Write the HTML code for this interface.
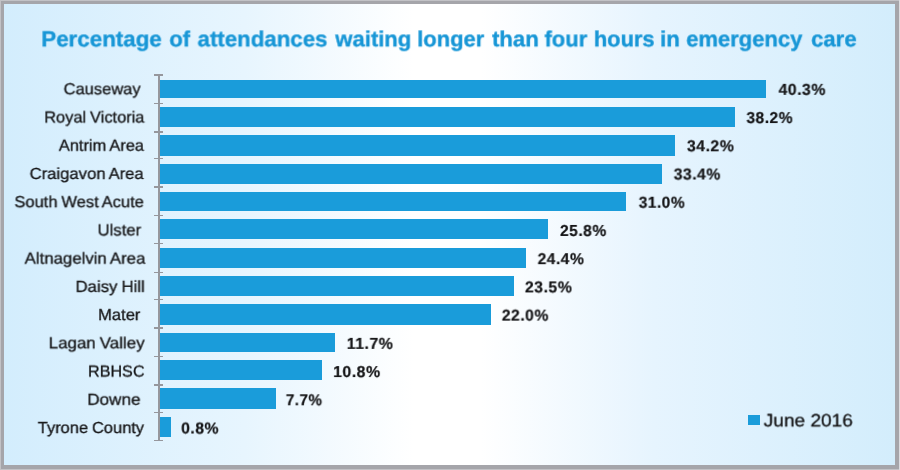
<!DOCTYPE html>
<html><head><meta charset="utf-8"><title>Chart</title>
<style>
html,body{margin:0;padding:0;}
body{width:900px;height:470px;overflow:hidden;background:#c2c2c6;font-family:"Liberation Sans",sans-serif;position:relative;}
#frame{position:absolute;left:1.1px;top:1.25px;width:897.6px;height:468.05px;background:#a5a5aa;}
#rs{position:absolute;left:898.7px;top:0;width:1.3px;height:470px;background:#dcdce0;}
#bg{position:absolute;left:3.85px;top:4.4px;width:891.15px;height:460.8px;
background:linear-gradient(to right,#d3edfd 0%,#e7f5fe 27%,#ffffff 46%,#ffffff 53.5%,#e6f4fe 73%,#d3edfc 100%);}
.t{position:absolute;white-space:nowrap;transform-origin:0 0;color:#141416;will-change:transform;text-rendering:geometricPrecision;-webkit-text-stroke:0.3px #141416;}
.lab{font-size:16.0px;line-height:21px;word-spacing:-0.6px;-webkit-text-stroke:0.3px #141416;color:#141416;}
.val{font-size:15.9px;line-height:21px;font-weight:bold;letter-spacing:0.5px;-webkit-text-stroke:0.2px #141416;}
.ttl{font-size:21.8px;line-height:26px;font-weight:bold;color:#1796d6;-webkit-text-stroke:0.35px #1796d6;}
.lgt{font-size:17.8px;line-height:22px;}
.bar{position:absolute;left:160px;background:#1a9cda;}
.tick{position:absolute;left:153.8px;width:9.4px;height:1.25px;background:#96979d;}
#axis{position:absolute;left:158.4px;top:74.6px;width:1.35px;height:366.5px;background:#96979d;}
#lgsq{position:absolute;left:748.4px;top:414.5px;width:11.2px;height:10.4px;background:#1a9cda;}
</style></head><body>
<div id="frame"></div><div id="rs"></div>
<div id="bg"></div>
<div id="axis"></div>
<div class="tick" style="top:74.38px"></div>
<div class="tick" style="top:102.78px"></div>
<div class="tick" style="top:131.38px"></div>
<div class="tick" style="top:157.98px"></div>
<div class="tick" style="top:186.38px"></div>
<div class="tick" style="top:214.78px"></div>
<div class="tick" style="top:243.18px"></div>
<div class="tick" style="top:271.78px"></div>
<div class="tick" style="top:298.98px"></div>
<div class="tick" style="top:327.38px"></div>
<div class="tick" style="top:355.78px"></div>
<div class="tick" style="top:384.38px"></div>
<div class="tick" style="top:411.98px"></div>
<div class="tick" style="top:439.98px"></div>
<div class="bar" style="top:79.60px;width:606.0px;height:18.80px"></div>
<div class="bar" style="top:106.60px;width:574.8px;height:20.80px"></div>
<div class="bar" style="top:135.00px;width:514.8px;height:20.60px"></div>
<div class="bar" style="top:163.60px;width:502.0px;height:20.60px"></div>
<div class="bar" style="top:192.00px;width:466.4px;height:19.00px"></div>
<div class="bar" style="top:219.40px;width:387.8px;height:19.60px"></div>
<div class="bar" style="top:247.60px;width:366.4px;height:20.40px"></div>
<div class="bar" style="top:276.00px;width:353.5px;height:20.40px"></div>
<div class="bar" style="top:304.40px;width:330.8px;height:20.40px"></div>
<div class="bar" style="top:333.00px;width:175.4px;height:19.00px"></div>
<div class="bar" style="top:360.00px;width:162.4px;height:20.40px"></div>
<div class="bar" style="top:388.40px;width:115.5px;height:20.30px"></div>
<div class="bar" style="top:417.00px;width:11.0px;height:20.00px"></div>
<div id="l0" class="t lab" style="left:63px;top:79.00px;transform:translate(0.63px,0.30px) scaleX(1.0309) rotate(0.001deg)">Causeway</div>
<div id="v0" class="t val" style="left:778px;top:79.00px;transform:translate(0.58px,0.85px) scaleX(0.9946) rotate(0.001deg)">40.3%</div>
<div id="l1" class="t lab" style="left:44px;top:107.00px;transform:translate(0.27px,0.53px) scaleX(1.0248) rotate(0.001deg)">Royal Victoria</div>
<div id="v1" class="t val" style="left:746px;top:108.00px;transform:translate(0.48px,0.07px) scaleX(0.9779) rotate(0.001deg)">38.2%</div>
<div id="l2" class="t lab" style="left:58px;top:135.00px;transform:translate(0.82px,0.76px) scaleX(1.0255) rotate(0.001deg)">Antrim Area</div>
<div id="v2" class="t val" style="left:686px;top:136.00px;transform:translate(0.98px,0.30px) scaleX(0.9947) rotate(0.001deg)">34.2%</div>
<div id="l3" class="t lab" style="left:29px;top:163.00px;transform:translate(0.67px,0.98px) scaleX(1.0400) rotate(0.001deg)">Craigavon Area</div>
<div id="v3" class="t val" style="left:673px;top:164.00px;transform:translate(0.76px,0.52px) scaleX(0.9890) rotate(0.001deg)">33.4%</div>
<div id="l4" class="t lab" style="left:14px;top:192.00px;transform:translate(0.47px,0.21px) scaleX(1.0298) rotate(0.001deg)">South West Acute</div>
<div id="v4" class="t val" style="left:638px;top:192.00px;transform:translate(0.78px,0.75px) scaleX(0.9735) rotate(0.001deg)">31.0%</div>
<div id="l5" class="t lab" style="left:97px;top:220.00px;transform:translate(0.55px,0.44px) scaleX(1.0442) rotate(0.001deg)">Ulster</div>
<div id="v5" class="t val" style="left:560px;top:220.00px;transform:translate(0.02px,0.97px) scaleX(0.9824) rotate(0.001deg)">25.8%</div>
<div id="l6" class="t lab" style="left:24px;top:248.00px;transform:translate(0.66px,0.67px) scaleX(1.0490) rotate(0.001deg)">Altnagelvin Area</div>
<div id="v6" class="t val" style="left:537px;top:249.00px;transform:translate(0.66px,0.19px) scaleX(0.9804) rotate(0.001deg)">24.4%</div>
<div id="l7" class="t lab" style="left:75px;top:276.00px;transform:translate(0.52px,0.90px) scaleX(1.0489) rotate(0.001deg)">Daisy Hill</div>
<div id="v7" class="t val" style="left:524px;top:277.00px;transform:translate(0.95px,0.42px) scaleX(0.9953) rotate(0.001deg)">23.5%</div>
<div id="l8" class="t lab" style="left:98px;top:305.00px;transform:translate(0.10px,0.12px) scaleX(1.0359) rotate(0.001deg)">Mater</div>
<div id="v8" class="t val" style="left:501px;top:305.00px;transform:translate(0.84px,0.64px) scaleX(0.9886) rotate(0.001deg)">22.0%</div>
<div id="l9" class="t lab" style="left:48px;top:333.00px;transform:translate(0.70px,0.35px) scaleX(1.0568) rotate(0.001deg)">Lagan Valley</div>
<div id="v9" class="t val" style="left:346px;top:333.00px;transform:translate(0.72px,0.87px) scaleX(0.9995) rotate(0.001deg)">11.7%</div>
<div id="l10" class="t lab" style="left:87px;top:361.00px;transform:translate(0.98px,0.58px) scaleX(1.0099) rotate(0.001deg)">RBHSC</div>
<div id="v10" class="t val" style="left:333px;top:362.00px;transform:translate(0.17px,0.09px) scaleX(0.9980) rotate(0.001deg)">10.8%</div>
<div id="l11" class="t lab" style="left:87px;top:389.00px;transform:translate(0.33px,0.81px) scaleX(1.0671) rotate(0.001deg)">Downe</div>
<div id="v11" class="t val" style="left:285px;top:390.00px;transform:translate(0.88px,0.31px) scaleX(0.9583) rotate(0.001deg)">7.7%</div>
<div id="l12" class="t lab" style="left:37px;top:418.00px;transform:translate(0.77px,0.04px) scaleX(1.0273) rotate(0.001deg)">Tyrone County</div>
<div id="v12" class="t val" style="left:181px;top:418.00px;transform:translate(0.17px,0.54px) scaleX(0.9921) rotate(0.001deg)">0.8%</div>
<div id="t0" class="t ttl" style="left:41px;top:25.50px;transform:translate(0.29px,0.35px) scaleX(1.0255) rotate(0.001deg)">Percentage</div>
<div id="t1" class="t ttl" style="left:169px;top:25.50px;transform:translate(0.32px,0.35px) scaleX(1.0134) rotate(0.001deg)">of</div>
<div id="t2" class="t ttl" style="left:197px;top:25.50px;transform:translate(0.58px,0.35px) scaleX(1.0211) rotate(0.001deg)">attendances</div>
<div id="t3" class="t ttl" style="left:335px;top:25.50px;transform:translate(0.32px,0.35px) scaleX(1.0134) rotate(0.001deg)">waiting</div>
<div id="t4" class="t ttl" style="left:417px;top:25.50px;transform:translate(0.25px,0.35px) scaleX(1.0072) rotate(0.001deg)">longer</div>
<div id="t5" class="t ttl" style="left:492px;top:25.50px;transform:translate(0.15px,0.35px) scaleX(1.0134) rotate(0.001deg)">than</div>
<div id="t6" class="t ttl" style="left:544px;top:25.50px;transform:translate(0.50px,0.35px) scaleX(1.0134) rotate(0.001deg)">four</div>
<div id="t7" class="t ttl" style="left:593px;top:25.50px;transform:translate(0.88px,0.35px) scaleX(1.0039) rotate(0.001deg)">hours</div>
<div id="t8" class="t ttl" style="left:660px;top:25.50px;transform:translate(0.12px,0.35px) scaleX(1.0134) rotate(0.001deg)">in</div>
<div id="t9" class="t ttl" style="left:686px;top:25.50px;transform:translate(0.24px,0.35px) scaleX(1.0091) rotate(0.001deg)">emergency</div>
<div id="t10" class="t ttl" style="left:811px;top:25.50px;transform:translate(0.17px,0.35px) scaleX(1.0134) rotate(0.001deg)">care</div>
<div id="lg" class="t lgt" style="left:763px;top:409.00px;transform:translate(0.81px,0.40px) scaleX(1.0714) rotate(0.001deg)">June 2016</div>
<div id="lgsq"></div>
</body></html>
